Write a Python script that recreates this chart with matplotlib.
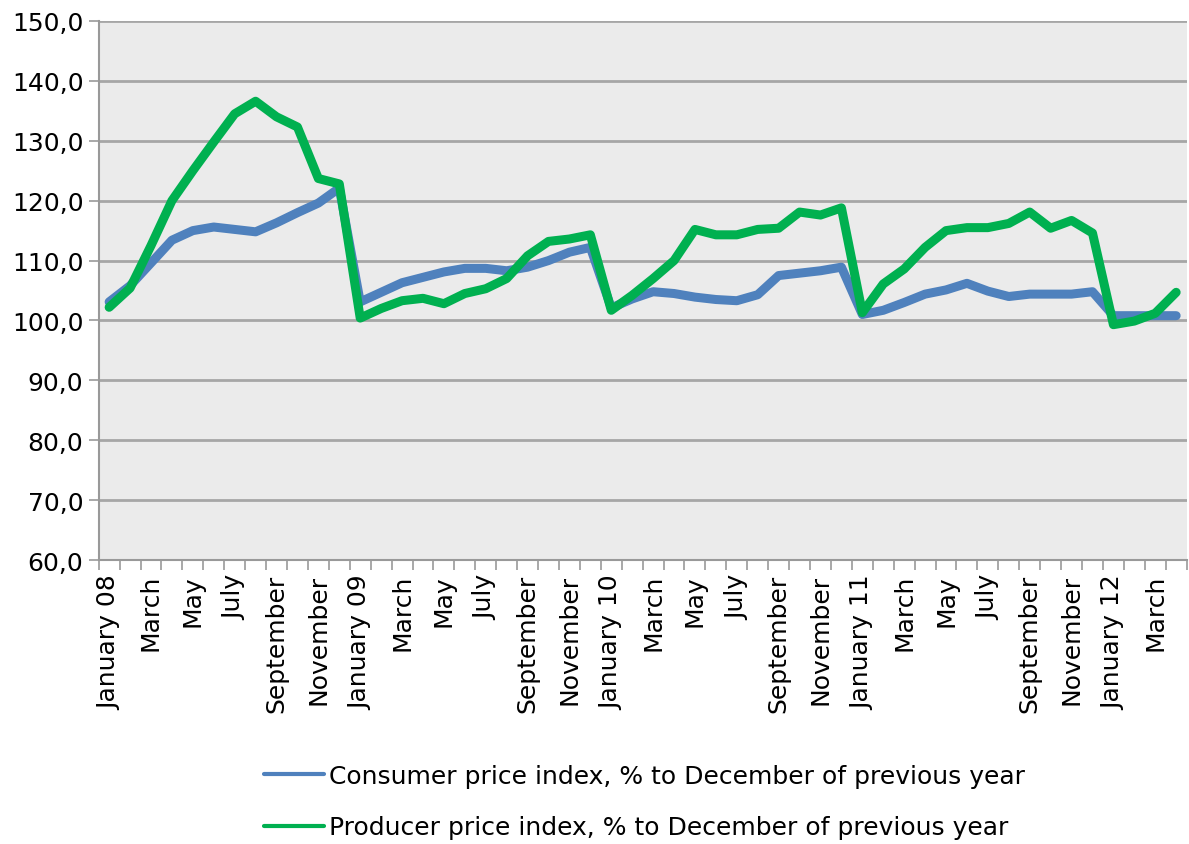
import numpy as np
import matplotlib.pyplot as plt

months = ["January", "February", "March", "April", "May", "June", "July",
          "August", "September", "October", "November", "December"]
years = ["08", "09", "10", "11", "12"]
n_months = 52  # January 08 .. April 12

cpi = [103.1, 105.8, 109.6, 113.4, 115.0, 115.6, 115.2, 114.8, 116.3, 118.0, 119.6, 122.1,
       103.1, 104.7, 106.3, 107.2, 108.1, 108.7, 108.7, 108.3, 108.9, 110.0, 111.4, 112.2,
       102.1, 103.6, 104.8, 104.5, 103.9, 103.5, 103.3, 104.3, 107.5, 107.9, 108.3, 108.9,
       101.0, 101.7, 103.0, 104.4, 105.1, 106.2, 104.9, 104.0, 104.4, 104.4, 104.4, 104.8,
       100.8, 100.8, 100.8, 100.8]
ppi = [102.2, 105.4, 112.5, 120.0, 125.0, 129.8, 134.5, 136.6, 134.0, 132.3, 123.7, 122.8,
       100.4, 102.0, 103.3, 103.7, 102.8, 104.5, 105.3, 107.0, 110.8, 113.2, 113.6, 114.3,
       101.7, 104.2, 107.0, 110.0, 115.2, 114.3, 114.3, 115.2, 115.4, 118.1, 117.6, 118.8,
       101.3, 106.1, 108.6, 112.2, 115.0, 115.5, 115.5, 116.2, 118.1, 115.4, 116.7, 114.6,
       99.3, 99.9, 101.2, 104.7]

cpi_label = "Consumer price index, % to December of previous year"
ppi_label = "Producer price index, % to December of previous year"

labels = []
for i in range(n_months):
    m = months[i % 12]
    if i % 12 == 0:
        m = m + " " + years[i // 12]
    labels.append(m)

plt.rcParams['font.family'] = ['DejaVu Sans']

fig = plt.figure(figsize=(11.89, 8.45), dpi=100)
ax = fig.add_axes([0.083, 0.336, 0.915, 0.638])
ax.set_facecolor("#EBEBEB")

x = np.arange(n_months)
ax.plot(x, cpi, color="#4F81BD", lw=6.5, solid_capstyle="round", solid_joinstyle="round", label=cpi_label)
ax.plot(x, ppi, color="#00B050", lw=6.5, solid_capstyle="round", solid_joinstyle="round", label=ppi_label)

ax.set_ylim(60, 150)
ax.set_yticks(np.arange(60, 151, 10))
ax.set_yticklabels(["{:.1f}".format(v).replace(".", ",") for v in np.arange(60, 151, 10)], fontsize=18)
ax.yaxis.grid(True, color="#A6A6A6", lw=2)
ax.set_axisbelow(True)

ax.set_xlim(-0.5, n_months - 0.5)
ax.set_xticks(np.arange(-0.5, n_months, 1))
ax.set_xticklabels([])
ax.set_xticks(x[::2], minor=True)
ax.set_xticklabels(labels[::2], minor=True, rotation=90, fontsize=18, va="top")
ax.tick_params(axis="x", which="major", length=7, color="#999999", width=1.2)
ax.tick_params(axis="x", which="minor", length=0, pad=10)
ax.tick_params(axis="y", length=7, color="#999999", width=1.2, pad=4)

for s in ["top", "right"]:
    ax.spines[s].set_visible(False)
ax.spines["left"].set_color("#999999")
ax.spines["bottom"].set_color("#999999")
ax.spines["left"].set_linewidth(1.5)
ax.spines["bottom"].set_linewidth(1.5)

leg = fig.legend(loc="center", bbox_to_anchor=(0.542, 0.05), ncol=1, frameon=False,
                 fontsize=18, handlelength=2.4, handletextpad=0.2, labelspacing=1.1)
for h in leg.get_lines():
    h.set_linewidth(3)

fig.savefig("out.png", dpi=100)
